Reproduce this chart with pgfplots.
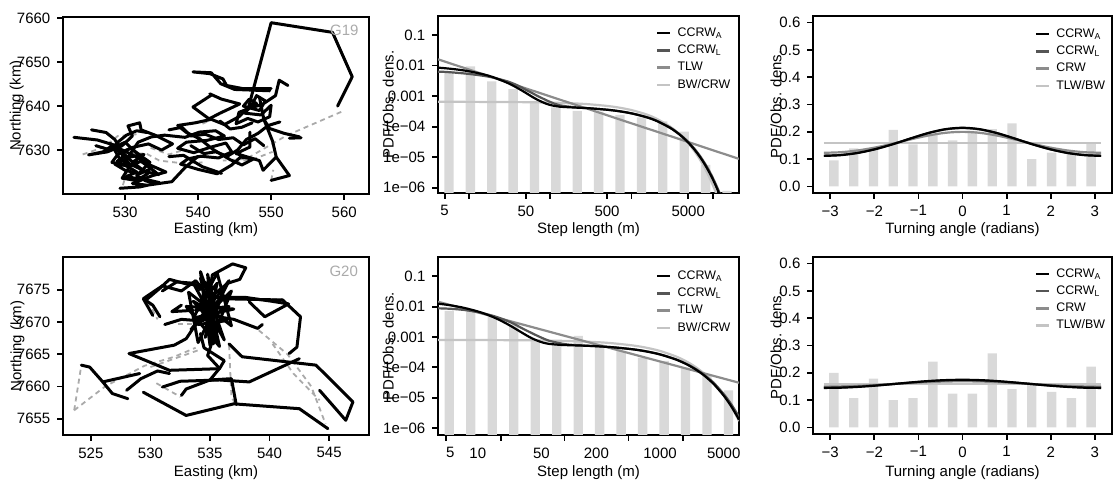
\documentclass[border=0pt]{standalone}
\usepackage{pgfplots}
\pgfplotsset{compat=1.18}
\usepackage{fontspec}
\setmainfont{Liberation Sans}
\definecolor{barc}{HTML}{D9D9D9}
\definecolor{cA}{HTML}{000000}
\definecolor{cL}{HTML}{555555}
\definecolor{cT}{HTML}{8C8C8C}
\definecolor{cB}{HTML}{C4C4C4}
\definecolor{dsh}{HTML}{AAAAAA}
\definecolor{lab}{HTML}{AAAAAA}
\newcommand\tfont{\fontsize{7.5}{9}\selectfont}
\newcommand\lfont{\fontsize{6.2}{7}\selectfont}
\pgfplotsset{
 rbase/.style={
  scale only axis, anchor=south west,
  axis line style={line width=0.9pt},
  tick style={line width=0.9pt, black},
  minor tick style={draw=none},
  tick align=outside, tick pos=left,
  major tick length=2.8pt,
  tick label style={font=\tfont},
  label style={font=\tfont},
  xlabel style={anchor=center},
  ylabel style={anchor=center},
  no markers,
 },
 trk/.style={black, line width=1.5pt, line join=round, line cap=round},
 dtr/.style={dsh, line width=0.9pt, dash pattern=on 2.5pt off 2pt},
 crv/.style={line width=1.1pt, smooth},
 leg/.style={
  legend style={draw=none, fill=none, at={#1}, anchor=north west, inner sep=0pt, outer sep=0pt,
   row sep=2.9pt, column sep=3pt, font=\lfont,
   nodes={inner sep=0pt, text height=4.5pt, text depth=1.2pt}},
  legend cell align=left,
  legend image code/.code={\draw[##1, line width=1.2pt] (0pt,0pt) -- (6.6pt,0pt);},
 },
}
\begin{document}
\begin{tikzpicture}
\useasboundingbox (0,0) rectangle (556.5pt,242.5pt);

% ---------------- Panel 1: G19 track ----------------
\begin{axis}[rbase, at={(31.5pt,145.5pt)}, width=153pt, height=88.5pt,
 xmin=521.5, xmax=563.4, ymin=7620.0, ymax=7660.3,
 xtick={530,540,550,560}, xticklabels={530,540,550,560},
 ytick={7630,7640,7650,7660}, yticklabels={7630,7640,7650,7660},
 xlabel={Easting (km)}, ylabel={Northing (km)},
 xlabel style={at={(axis description cs:0.5,-0.203)}},
 ylabel style={at={(axis description cs:-0.151,0.5)}}]
\addplot[dtr] coordinates {(559.6,7638.7) (552.1,7633.3) (546.6,7628.0) (543.4,7627.6)};
\addplot[dtr] coordinates {(524.2,7629.0) (527.0,7630.6) (529.0,7633.2) (531.6,7633.6)};
\addplot[dtr] coordinates {(529.3,7629.2) (532.9,7629.2) (534.7,7627.6) (537.8,7627.0) (540.6,7627.2)};
\addplot[dtr] coordinates {(529.7,7622.0) (530.2,7624.8)};
\addplot[dtr] coordinates {(540.6,7636.0) (541.7,7636.8)};
\addplot[dtr] coordinates {(550.0,7623.1) (550.3,7625.5)};
\addplot[dtr] coordinates {(545.0,7627.2) (548.0,7628.2) (550.2,7629.6)};
\addplot[dtr] coordinates {(533.5,7630.5) (536.0,7629.0) (538.0,7630.0)};
\addplot[trk] coordinates {(523.0,7632.9) (526.2,7632.3) (528.4,7631.2) (527.0,7629.6) (525.0,7628.9) (527.6,7629.6) (529.6,7631.0) (531.0,7633.2) (530.4,7635.5) (532.0,7636.2) (532.2,7634.6) (534.1,7633.4) (536.5,7631.4) (535.0,7630.0) (533.2,7631.4) (531.0,7630.6) (529.0,7629.0) (528.2,7627.2) (530.2,7626.4) (532.2,7627.4) (533.6,7625.8) (532.0,7624.6) (530.0,7625.4) (528.6,7626.8) (530.6,7628.4) (532.6,7629.0) (531.0,7627.2) (529.6,7623.6) (531.8,7623.0) (533.8,7624.2) (535.6,7625.0) (533.4,7626.6) (531.4,7628.6) (529.4,7630.2) (528.6,7632.4) (527.4,7634.0) (525.4,7634.6)};
\addplot[trk] coordinates {(528.0,7631.5) (529.5,7629.5) (530.5,7627.0) (529.2,7628.2) (528.4,7630.5) (530.0,7631.8) (531.5,7629.4) (532.8,7626.8) (534.6,7624.4) (533.0,7625.0) (531.2,7626.4) (529.8,7627.0) (531.8,7631.8) (533.6,7633.0) (535.4,7633.4)};
\addplot[trk] coordinates {(528.5,7630.8) (529.8,7628.6) (528.9,7627.4) (530.4,7626.2) (531.6,7625.0) (530.2,7624.0) (531.9,7623.4) (533.1,7624.6) (532.0,7626.0) (530.8,7627.6) (529.6,7629.6) (530.8,7630.4) (532.4,7628.4) (533.4,7627.2) (531.6,7624.2) (532.8,7623.0) (534.2,7622.4)};
\addplot[trk] coordinates {(526.0,7631.0) (528.0,7630.0) (529.0,7631.8) (530.2,7633.4) (531.6,7634.4) (533.0,7634.0)};
\addplot[trk] coordinates {(529.3,7621.3) (532.0,7621.6) (534.7,7622.6) (532.6,7623.4) (531.0,7622.4) (533.0,7622.0) (536.4,7622.8) (538.2,7626.0) (540.0,7628.6)};
\addplot[trk] coordinates {(535.4,7633.4) (538.2,7632.9) (540.2,7634.1) (542.4,7634.4) (543.6,7633.2) (541.2,7632.2) (538.4,7631.8) (537.2,7630.4) (539.4,7629.4) (541.6,7630.6) (543.8,7631.6) (544.6,7629.6) (542.8,7628.2) (540.4,7628.6) (538.6,7628.0) (537.6,7626.8) (540.0,7625.6) (542.6,7624.6) (544.6,7626.6) (545.8,7628.4) (547.6,7628.0) (546.0,7626.6) (544.4,7627.8) (542.0,7630.2) (540.2,7632.6) (538.4,7634.0) (537.2,7635.6) (539.6,7636.2) (541.8,7637.0) (543.6,7635.8) (545.6,7637.6) (546.6,7639.2)};
\addplot[trk] coordinates {(536.0,7634.6) (537.8,7635.2) (539.0,7633.2) (541.0,7633.6) (542.8,7632.4) (544.8,7632.8) (546.2,7631.2) (547.8,7632.6) (549.0,7631.0)};
\addplot[trk] coordinates {(539.0,7631.0) (540.8,7629.2) (542.4,7629.6) (544.0,7628.6) (545.4,7630.0) (546.6,7632.4) (548.2,7633.8) (549.6,7635.6) (551.2,7636.4)};
\addplot[trk] coordinates {(543.0,7636.6) (544.4,7634.8) (546.0,7635.2) (547.4,7636.2)};
\addplot[trk] coordinates {(546.6,7639.2) (548.0,7640.6) (547.0,7641.6) (546.2,7640.0) (548.4,7639.0) (549.2,7641.2) (548.0,7642.4) (547.4,7640.4) (546.4,7638.4) (548.6,7638.0) (550.0,7640.2) (549.8,7637.6) (548.2,7636.4) (546.8,7637.2) (545.2,7636.0) (545.6,7638.6) (547.2,7639.6) (548.8,7640.4) (550.6,7642.4) (551.1,7645.9) (552.3,7644.7)};
\addplot[trk] coordinates {(550.0,7644.0) (546.1,7644.0) (543.9,7644.7) (543.4,7646.2) (541.6,7647.4) (539.3,7647.8) (541.8,7647.6) (543.1,7645.1) (545.0,7643.8) (549.8,7643.5)};
\addplot[trk] coordinates {(541.8,7642.5) (539.3,7639.8) (541.5,7637.1) (543.0,7638.4) (545.7,7640.5) (543.2,7641.6) (541.6,7642.8)};
\addplot[trk] coordinates {(548.4,7642.0) (549.0,7637.0) (549.8,7634.9) (551.8,7633.8) (553.9,7633.0)};
\addplot[trk] coordinates {(549.0,7637.0) (550.2,7632.0) (550.7,7628.4) (552.5,7624.2) (550.0,7623.1)};
\addplot[trk] coordinates {(547.1,7634.1) (547.1,7630.7) (545.2,7629.2) (548.4,7627.6) (548.9,7625.4) (550.7,7628.4)};
\addplot[trk] coordinates {(552.5,7632.7) (554.1,7632.8)};
\addplot[trk] coordinates {(536.0,7628.5) (538.0,7628.8) (540.6,7626.2) (543.2,7624.7)};
\addplot[trk] coordinates {(546.8,7639.1) (550.0,7659.0) (558.4,7656.8) (561.1,7646.7) (559.1,7640.0)};
\node[anchor=north east, inner sep=0pt, text=lab, font=\tfont] at (rel axis cs:0.967,0.959) {G19};
\end{axis}

% ---------------- Panel 2: step length G19 ----------------
\begin{axis}[rbase, at={(219pt,146pt)}, width=150.5pt, height=88.5pt,
 xmode=log, ymode=log, log origin y=infty,
 xmin=4.14, xmax=21100, ymin=6.7e-7, ymax=0.419,
 xtick={5,10,50,100,500,1000,5000,10000}, xticklabels={5,,50,,500,,5000,},
 ytick={1e-6,1e-5,1e-4,1e-3,1e-2,1e-1}, yticklabels={1e−06,1e−05,1e−04,0.001,0.01,0.1},
 xlabel={Step length (m)}, ylabel={PDF/Obs. dens.},
 xlabel style={at={(axis description cs:0.5,-0.209)}},
 ylabel style={at={(axis description cs:-0.165,0.5)}},
 leg={(axis description cs:0.7243,0.9345)}]
\addlegendimage{cA}\addlegendentry{CCRW\textsubscript{A}}
\addlegendimage{cL}\addlegendentry{CCRW\textsubscript{L}}
\addlegendimage{cT}\addlegendentry{TLW}
\addlegendimage{cB}\addlegendentry{BW/CRW}
\addplot[ybar, bar width=4.67pt, fill=barc, draw=none, forget plot] coordinates {(5.65,0.0064) (10.36,0.0093) (19.0,0.0030) (34.85,0.0017) (63.9,0.0007) (117.2,0.00043) (215,0.00033) (394,0.00031) (723,0.00024) (1326,0.0002) (2432,0.000147) (4460,6.9e-5) (8180,5.6e-6) (15000,7.9e-7)};
\addplot[crv, cB, forget plot] coordinates {(4.14,0.00065) (10,0.000646) (30,0.000638) (50,0.00063) (100,0.000611) (200,0.000574) (300,0.000539) (500,0.000476) (700,0.00042) (1000,0.000348) (1500,0.000255) (2000,0.000186) (3000,9.97e-5) (4000,5.34e-5) (5000,2.85e-5) (6000,1.53e-5) (7000,8.18e-6) (8000,4.38e-6) (9000,2.34e-6) (10000,1.25e-6) (11000,6.7e-7) (12000,3.6e-7)};
\addplot[line width=1.1pt, cT, forget plot] coordinates {(4.14,0.016) (10,0.00736) (30,0.0028) (100,0.00097) (300,0.00037) (1000,0.000128) (3000,4.9e-5) (10000,1.69e-5) (21100,8.8e-6)};
\addplot[crv, cL, forget plot] coordinates {(4.14,0.0063) (5,0.0062) (7,0.0058) (10,0.0053) (15,0.0046) (20,0.0040) (30,0.0030) (40,0.0022) (50,0.0016) (60,0.00125) (70,0.001) (85,0.00078) (100,0.00064) (130,0.0005) (200,0.00043) (300,0.000399) (500,0.000357) (700,0.00032) (1000,0.000272) (1500,0.000208) (2000,0.00016) (3000,9.3e-5) (4000,5.4e-5) (5000,3.15e-5) (6000,1.85e-5) (7000,1.08e-5) (8000,6.3e-6) (9000,3.7e-6) (10000,2.15e-6) (11000,1.25e-6) (12000,7.3e-7) (12500,5.5e-7)};
\addplot[crv, cA, forget plot] coordinates {(4.14,0.00852) (5,0.00818) (7,0.00745) (10,0.00647) (15,0.00515) (20,0.00411) (30,0.00267) (40,0.00180) (50,0.00127) (60,0.00094) (70,0.00075) (85,0.00059) (100,0.00051) (130,0.00045) (200,0.000421) (300,0.000399) (500,0.000357) (700,0.00032) (1000,0.000271) (1500,0.000206) (2000,0.000157) (3000,9.03e-5) (4000,5.21e-5) (5000,3.0e-5) (6000,1.73e-5) (7000,1.0e-5) (8000,5.77e-6) (9000,3.33e-6) (10000,1.92e-6) (11000,1.11e-6) (12000,6.4e-7) (12500,4.9e-7)};
\end{axis}

% ---------------- Panel 3: turning angle G19 ----------------
\begin{axis}[rbase, at={(406.5pt,146pt)}, width=149.5pt, height=88.5pt,
 xmin=-3.39, xmax=3.39, ymin=-0.024, ymax=0.624,
 xtick={-3,-2,-1,0,1,2,3}, xticklabels={−3,−2,−1,0,1,2,3},
 ytick={0,0.1,0.2,0.3,0.4,0.5,0.6}, yticklabels={0.0,0.1,0.2,0.3,0.4,0.5,0.6},
 xlabel={Turning angle (radians)}, ylabel={PDF/Obs. dens.},
 xlabel style={at={(axis description cs:0.5,-0.205)}},
 ylabel style={at={(axis description cs:-0.124,0.5)}},
 leg={(axis description cs:0.7415,0.9288)}]
\addlegendimage{cA}\addlegendentry{CCRW\textsubscript{A}}
\addlegendimage{cL}\addlegendentry{CCRW\textsubscript{L}}
\addlegendimage{cT}\addlegendentry{CRW}
\addlegendimage{cB}\addlegendentry{TLW/BW}
\addplot[ybar, bar width=4.67pt, fill=barc, draw=none, forget plot] coordinates {(-2.917,0.095) (-2.468,0.139) (-2.020,0.135) (-1.571,0.207) (-1.122,0.154) (-0.673,0.190) (-0.224,0.169) (0.224,0.203) (0.673,0.210) (1.122,0.231) (1.571,0.100) (2.020,0.124) (2.468,0.124) (2.917,0.157)};
\addplot[line width=1.1pt, cB, forget plot] coordinates {(-3.1416,0.1592) (3.1416,0.1592)};
\addplot[crv, cT, forget plot] coordinates {(-3.1416,0.1232) (-2.7489,0.1254) (-2.3562,0.1322) (-1.9635,0.1430) (-1.5708,0.1569) (-1.1781,0.1721) (-0.7854,0.1861) (-0.3927,0.1962) (0,0.1998) (0.3927,0.1962) (0.7854,0.1861) (1.1781,0.1721) (1.5708,0.1569) (1.9635,0.1430) (2.3562,0.1322) (2.7489,0.1254) (3.1416,0.1232)};
\addplot[crv, cL, forget plot] coordinates {(-3.1416,0.1127) (-2.7489,0.1155) (-2.3562,0.1238) (-1.9635,0.1373) (-1.5708,0.1552) (-1.1781,0.1754) (-0.7854,0.1946) (-0.3927,0.2086) (0,0.2137) (0.3927,0.2086) (0.7854,0.1946) (1.1781,0.1754) (1.5708,0.1552) (1.9635,0.1373) (2.3562,0.1238) (2.7489,0.1155) (3.1416,0.1127)};
\addplot[crv, cA, forget plot] coordinates {(-3.1416,0.1119) (-2.7489,0.1147) (-2.3562,0.1231) (-1.9635,0.1369) (-1.5708,0.1550) (-1.1781,0.1756) (-0.7854,0.1952) (-0.3927,0.2095) (0,0.2148) (0.3927,0.2095) (0.7854,0.1952) (1.1781,0.1756) (1.5708,0.1550) (1.9635,0.1369) (2.3562,0.1231) (2.7489,0.1147) (3.1416,0.1119)};
\end{axis}

% ---------------- Panel 4: G20 track ----------------
\begin{axis}[rbase, at={(31.5pt,25pt)}, width=153pt, height=89pt,
 xmin=522.66, xmax=548.35, ymin=7652.47, ymax=7680.07,
 xtick={525,530,535,540,545}, xticklabels={525,530,535,540,545},
 ytick={7655,7660,7665,7670,7675}, yticklabels={7655,7660,7665,7670,7675},
 xlabel={Easting (km)}, ylabel={Northing (km)},
 xlabel style={at={(axis description cs:0.5,-0.21)}},
 ylabel style={at={(axis description cs:-0.149,0.5)}}]
\addplot[dtr] coordinates {(523.6,7656.3) (524.2,7663.3)};
\addplot[dtr] coordinates {(523.6,7656.3) (526.2,7660.0) (529.5,7663.2) (532.0,7664.6) (533.8,7666.0)};
\addplot[dtr] coordinates {(530.0,7663.0) (534.0,7665.6)};
\addplot[dtr] coordinates {(532.3,7669.7) (534.6,7669.7)};
\addplot[dtr] coordinates {(536.4,7673.6) (541.1,7673.6)};
\addplot[dtr] coordinates {(539.1,7668.7) (541.5,7665.0) (543.5,7660.0) (544.7,7654.2)};
\addplot[dtr] coordinates {(540.25,7666.6) (542.0,7662.0) (544.2,7657.85)};
\addplot[dtr] coordinates {(536.6,7666.4) (536.8,7658.4) (537.2,7657.0)};
\addplot[dtr] coordinates {(530.5,7660.5) (532.5,7658.4)};
\addplot[dtr] coordinates {(529.8,7673.2) (530.6,7670.4)};
\addplot[trk] coordinates {(534.2,7676.8) (535.6,7667.0) (534.4,7675.2) (535.3,7666.6) (534.8,7677.4) (535.8,7668.6) (533.6,7673.2) (536.4,7670.2) (534.0,7669.6) (536.0,7674.0) (534.6,7667.6) (535.6,7676.0) (533.8,7671.8) (536.6,7672.4) (534.4,7670.2) (535.4,7674.6) (534.9,7668.2) (535.1,7675.8)};
\addplot[trk] coordinates {(533.6,7676.0) (536.2,7667.2) (534.2,7677.8) (535.0,7666.4) (536.8,7674.8) (533.4,7668.8) (536.6,7676.4) (534.0,7666.8) (533.2,7674.6) (536.8,7669.4) (535.6,7677.6) (533.6,7670.6) (537.0,7672.0) (533.0,7672.4) (535.8,7666.2) (534.6,7676.2)};
\addplot[trk] coordinates {(535.0,7675.0) (535.2,7677.3) (536.9,7679.0) (538.0,7678.4) (537.5,7676.6) (536.5,7676.0) (535.4,7674.4)};
\addplot[trk] coordinates {(534.5,7675.6) (533.0,7675.9) (531.6,7676.6) (530.75,7675.15) (529.6,7673.35) (530.2,7672.6) (530.8,7670.8)};
\addplot[trk] coordinates {(531.0,7674.8) (532.2,7676.2) (533.6,7676.0) (534.2,7675.0)};
\addplot[trk] coordinates {(530.2,7671.0) (529.4,7673.6) (531.0,7675.6) (532.6,7674.8) (533.8,7676.4) (534.6,7674.6)};
\addplot[trk] coordinates {(535.2,7673.8) (538.0,7673.8) (540.2,7673.2) (541.6,7672.8) (539.6,7670.8) (538.3,7673.1)};
\addplot[trk] coordinates {(536.0,7673.6) (541.1,7673.4) (542.6,7670.8) (542.3,7666.1) (541.65,7665.1)};
\addplot[trk] coordinates {(535.0,7671.0) (537.0,7670.4) (539.0,7669.0) (539.4,7669.6)};
\addplot[trk] coordinates {(534.0,7670.2) (532.6,7670.4) (531.2,7669.6)};
\addplot[trk] coordinates {(533.6,7671.8) (531.8,7671.6) (532.6,7672.6)};
\addplot[trk] coordinates {(535.2,7667.0) (534.8,7664.8) (535.8,7662.8) (535.0,7661.0)};
\addplot[trk] coordinates {(533.8,7669.6) (533.0,7667.4) (532.0,7666.4) (528.2,7665.1) (531.6,7662.5) (535.8,7662.75) (536.2,7664.0) (534.5,7666.0) (534.2,7668.2)};
\addplot[trk] coordinates {(524.2,7663.3) (524.9,7663.0) (526.0,7660.7) (526.8,7658.9) (528.1,7658.1)};
\addplot[trk] coordinates {(526.0,7660.7) (529.1,7662.0)};
\addplot[trk] coordinates {(528.0,7659.4) (529.2,7661.2) (530.6,7662.4) (531.6,7662.0)};
\addplot[trk] coordinates {(529.4,7659.1) (533.0,7655.5) (537.0,7657.3) (542.5,7656.55) (544.9,7653.45)};
\addplot[trk] coordinates {(531.0,7659.9) (532.5,7660.8) (535.8,7661.0) (538.3,7660.7) (542.5,7664.3)};
\addplot[trk] coordinates {(532.6,7658.6) (533.0,7659.6) (535.0,7661.0) (536.8,7661.2) (537.2,7657.2)};
\addplot[trk] coordinates {(536.6,7666.6) (537.7,7664.6) (543.9,7663.3) (547.0,7657.6) (546.4,7654.75) (544.2,7659.4)};
\node[anchor=north east, inner sep=0pt, text=lab, font=\tfont] at (rel axis cs:0.965,0.953) {G20};
\end{axis}

% ---------------- Panel 5: step length G20 ----------------
\begin{axis}[rbase, at={(219pt,25pt)}, width=150.5pt, height=89pt,
 xmode=log, ymode=log, log origin y=infty,
 xmin=3.66, xmax=7360, ymin=5.9e-7, ymax=0.432,
 xtick={4.52,17.9,89.6,450,1782}, xticklabels={,,,,},
 extra x ticks={5,10,50,200,1000,5000}, extra x tick labels={5,10,50,200,1000,5000},
 extra x tick style={tick style={draw=none}},
 ytick={1e-6,1e-5,1e-4,1e-3,1e-2,1e-1}, yticklabels={1e−06,1e−05,1e−04,0.001,0.01,0.1},
 xlabel={Step length (m)}, ylabel={PDF/Obs. dens.},
 xlabel style={at={(axis description cs:0.5,-0.213)}},
 ylabel style={at={(axis description cs:-0.165,0.5)}},
 leg={(axis description cs:0.7243,0.9236)}]
\addlegendimage{cA}\addlegendentry{CCRW\textsubscript{A}}
\addlegendimage{cL}\addlegendentry{CCRW\textsubscript{L}}
\addlegendimage{cT}\addlegendentry{TLW}
\addlegendimage{cB}\addlegendentry{BW/CRW}
\addplot[ybar, bar width=4.67pt, fill=barc, draw=none, forget plot] coordinates {(4.87,0.0072) (8.38,0.0072) (14.42,0.0047) (24.81,0.0026) (42.7,0.00083) (73.5,0.00065) (126.4,0.00108) (217.5,0.00057) (374.3,0.00034) (644,0.000207) (1108,0.000162) (1907,9.8e-5) (3281,5.2e-5) (5646,1.74e-5)};
\addplot[crv, cB, forget plot] coordinates {(3.66,0.000798) (10,0.000793) (30,0.000781) (50,0.000767) (100,0.000736) (200,0.000677) (300,0.000622) (500,0.000527) (700,0.000446) (1000,0.000347) (1500,0.000228) (2000,0.00015) (2500,9.9e-5) (3000,6.51e-5) (3500,4.29e-5) (4000,2.82e-5) (5000,1.22e-5) (6000,5.3e-6) (7000,2.30e-6) (7360,1.70e-6)};
\addplot[line width=1.1pt, cT, forget plot] coordinates {(3.66,0.0145) (10,0.00644) (100,0.001) (1000,0.0001558) (7360,3.11e-5)};
\addplot[crv, cL, forget plot] coordinates {(3.66,0.0088) (5,0.0085) (7,0.0078) (10,0.0066) (13,0.0055) (16,0.0046) (20,0.0036) (25,0.0027) (30,0.0020) (40,0.0013) (50,0.00095) (60,0.00076) (80,0.00062) (100,0.00056) (150,0.00052) (200,0.000497) (300,0.00046) (500,0.000394) (700,0.000338) (1000,0.000268) (1500,0.000183) (2000,0.000125) (2500,8.6e-5) (3000,5.9e-5) (3500,4.05e-5) (4000,2.8e-5) (5000,1.32e-5) (6000,6.3e-6) (7000,3.0e-6) (7360,2.35e-6)};
\addplot[crv, cA, forget plot] coordinates {(3.66,0.01258) (5,0.01107) (7,0.00917) (10,0.00694) (13,0.00529) (16,0.00406) (20,0.00291) (25,0.00199) (30,0.00143) (35,0.00109) (40,0.000879) (50,0.000675) (60,0.000596) (80,0.000551) (100,0.000536) (150,0.000516) (200,0.000496) (300,0.000459) (500,0.000393) (700,0.000336) (1000,0.000266) (1500,0.00018) (2000,0.000122) (2500,8.25e-5) (3000,5.59e-5) (3500,3.78e-5) (4000,2.56e-5) (5000,1.17e-5) (6000,5.38e-6) (7000,2.47e-6) (7360,1.86e-6)};
\end{axis}

% ---------------- Panel 6: turning angle G20 ----------------
\begin{axis}[rbase, at={(406.5pt,25.5pt)}, width=149.5pt, height=88.5pt,
 xmin=-3.39, xmax=3.39, ymin=-0.024, ymax=0.624,
 xtick={-3,-2,-1,0,1,2,3}, xticklabels={−3,−2,−1,0,1,2,3},
 ytick={0,0.1,0.2,0.3,0.4,0.5,0.6}, yticklabels={0.0,0.1,0.2,0.3,0.4,0.5,0.6},
 xlabel={Turning angle (radians)}, ylabel={PDF/Obs. dens.},
 xlabel style={at={(axis description cs:0.5,-0.216)}},
 ylabel style={at={(axis description cs:-0.124,0.5)}},
 leg={(axis description cs:0.7415,0.936)}]
\addlegendimage{cA}\addlegendentry{CCRW\textsubscript{A}}
\addlegendimage{cL}\addlegendentry{CCRW\textsubscript{L}}
\addlegendimage{cT}\addlegendentry{CRW}
\addlegendimage{cB}\addlegendentry{TLW/BW}
\addplot[ybar, bar width=4.67pt, fill=barc, draw=none, forget plot] coordinates {(-2.917,0.200) (-2.468,0.107) (-2.020,0.179) (-1.571,0.100) (-1.122,0.107) (-0.673,0.241) (-0.224,0.124) (0.224,0.124) (0.673,0.271) (1.122,0.140) (1.571,0.155) (2.020,0.130) (2.468,0.107) (2.917,0.223)};
\addplot[line width=1.1pt, cB, forget plot] coordinates {(-3.1416,0.1592) (3.1416,0.1592)};
\addplot[crv, cT, forget plot] coordinates {(-3.1416,0.1498) (-2.7489,0.1504) (-2.3562,0.1524) (-1.9635,0.1554) (-1.5708,0.1590) (-1.1781,0.1627) (-0.7854,0.1659) (-0.3927,0.1681) (0,0.1688) (0.3927,0.1681) (0.7854,0.1659) (1.1781,0.1627) (1.5708,0.1590) (1.9635,0.1554) (2.3562,0.1524) (2.7489,0.1504) (3.1416,0.1498)};
\addplot[crv, cL, forget plot] coordinates {(-3.1416,0.1459) (-2.7489,0.1469) (-2.3562,0.1496) (-1.9635,0.1538) (-1.5708,0.1589) (-1.1781,0.1641) (-0.7854,0.1687) (-0.3927,0.1718) (0,0.1730) (0.3927,0.1718) (0.7854,0.1687) (1.1781,0.1641) (1.5708,0.1589) (1.9635,0.1538) (2.3562,0.1496) (2.7489,0.1469) (3.1416,0.1459)};
\addplot[crv, cA, forget plot] coordinates {(-3.1416,0.1446) (-2.7489,0.1456) (-2.3562,0.1486) (-1.9635,0.1532) (-1.5708,0.1588) (-1.1781,0.1646) (-0.7854,0.1697) (-0.3927,0.1732) (0,0.1745) (0.3927,0.1732) (0.7854,0.1697) (1.1781,0.1646) (1.5708,0.1588) (1.9635,0.1532) (2.3562,0.1486) (2.7489,0.1456) (3.1416,0.1446)};
\end{axis}
\end{tikzpicture}
\end{document}
